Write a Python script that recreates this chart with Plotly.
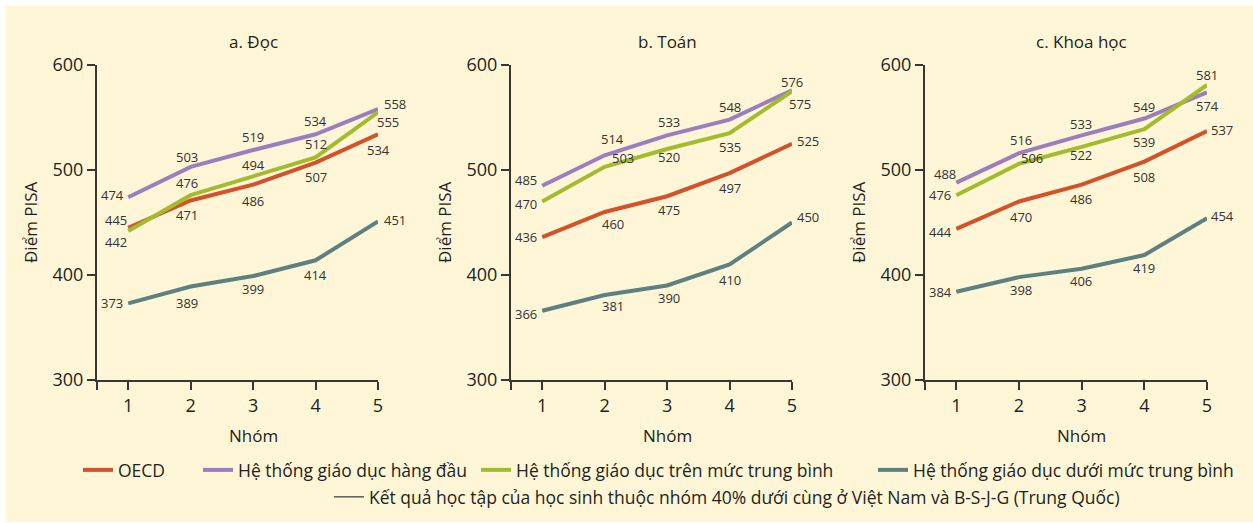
import plotly.graph_objects as go

# ---------------- data ----------------
groups = [1, 2, 3, 4, 5]
series_names = [
    "OECD",
    "Hệ thống giáo dục hàng đầu",
    "Hệ thống giáo dục trên mức trung bình",
    "Hệ thống giáo dục dưới mức trung bình",
]
ref_name = "Kết quả học tập của học sinh thuộc nhóm 40% dưới cùng ở Việt Nam và B-S-J-G (Trung Quốc)"
panel_titles = ["a. Đọc", "b. Toán", "c. Khoa học"]
x_title = "Nhóm"
y_title = "Điểm PISA"

# a. Reading
doc_oecd = [445, 471, 486, 507, 534]
doc_top = [474, 503, 519, 534, 558]
doc_above = [442, 476, 494, 512, 555]
doc_below = [373, 389, 399, 414, 451]
# b. Math
toan_oecd = [436, 460, 475, 497, 525]
toan_top = [485, 514, 533, 548, 576]
toan_above = [470, 503, 520, 535, 575]
toan_below = [366, 381, 390, 410, 450]
# c. Science
kh_oecd = [444, 470, 486, 508, 537]
kh_top = [488, 516, 533, 549, 574]
kh_above = [476, 506, 522, 539, 581]
kh_below = [384, 398, 406, 419, 454]

# bottom-40% Viet Nam / B-S-J-G reference level per panel
ref_values = [479, 506, 507]

# ---------------- styles ----------------
W, H = 1253, 523
colors = ["#D4522B", "#9C7DBE", "#A3BC2D", "#5D8081"]
cream = "#FEF6D6"
axis_col = "#3B3535"
txt_col = "#231F20"
label_col = "#333333"
FONT = "Open Sans"

# value-label pixel offsets (dx, dy up) per panel / series / point (style only)
offs_a = [
    [(-12, 8), (-4, -15), (0, -16), (0, -14), (0, -16)],
    [(-16, 2), (-4, 10), (0, 13), (0, 13), (17, 5)],
    [(-12, -11), (-4, 12), (0, 11), (0, 13), (10, -10)],
    [(-16, 0), (-4, -16), (0, -13), (0, -15), (17, 1)],
]
offs_b = [
    [(-16, 0), (8, -12), (2, -14), (0, -15), (16, 3)],
    [(-16, 6), (8, 16), (2, 13), (0, 13), (0, 8)],
    [(-16, -2), (18, 9), (2, -8), (0, -14), (8, -13)],
    [(-16, -3), (8, -11), (2, -12), (0, -15), (16, 6)],
]
offs_c = [
    [(-16, -3), (2, -15), (-1, -14), (0, -15), (15, 1)],
    [(-11, 9), (2, 13), (-1, 11), (0, 12), (0, -14)],
    [(-16, 0), (13, 6), (-1, -8), (0, -13), (0, 10)],
    [(-16, 0), (2, -13), (-1, -12), (0, -13), (15, 2)],
]

panels = [
    ([doc_oecd, doc_top, doc_above, doc_below], offs_a),
    ([toan_oecd, toan_top, toan_above, toan_below], offs_b),
    ([kh_oecd, kh_top, kh_above, kh_below], offs_c),
]
x_domains_px = [(97, 378), (511, 792), (925, 1207)]
y_domain_px = (380, 65)


def fx(p):
    return p / W


def fy(p):
    return 1 - p / H


fig = go.Figure()
legend_keys = ["legend", "legend2", "legend3", "legend4"]
annotations = []

for pi, (series, offsets) in enumerate(panels):
    xa = "x" if pi == 0 else f"x{pi + 1}"
    ya = "y" if pi == 0 else f"y{pi + 1}"
    for si, vals in enumerate(series):
        fig.add_trace(go.Scatter(
            x=groups, y=vals, mode="lines",
            line=dict(color=colors[si], width=4),
            name=series_names[si],
            showlegend=(pi == 0),
            legend=legend_keys[si],
            xaxis=xa, yaxis=ya, cliponaxis=False, hoverinfo="skip",
        ))
        for gi, (g, v) in enumerate(zip(groups, vals)):
            dx, dy = offsets[si][gi]
            annotations.append(dict(
                text=str(v), x=g, y=v, xref=xa, yref=ya,
                xshift=dx, yshift=dy, showarrow=False,
                xanchor="center", yanchor="middle",
                font=dict(family=FONT, size=13, color=label_col)))
    # reference level line across the panel
    fig.add_shape(type="line", xref=f"{xa} domain", yref=ya,
                  x0=0, x1=1, y0=ref_values[pi], y1=ref_values[pi],
                  line=dict(color="#111111", width=1))

# dummy trace for reference-line legend entry
fig.add_trace(go.Scatter(x=[None], y=[None], mode="lines",
                         line=dict(color="#111111", width=1),
                         name=ref_name, legend="legend5", showlegend=True))

axis_common = dict(
    showline=True, linecolor=axis_col, linewidth=2,
    ticks="outside", ticklen=8, tickwidth=2, tickcolor=axis_col,
    showgrid=False, zeroline=False, fixedrange=True, automargin=False,
    tickfont=dict(family=FONT, size=18, color=txt_col),
)

layout = dict(
    width=W, height=H,
    margin=dict(l=0, r=0, t=0, b=0, autoexpand=False),
    paper_bgcolor="white",
    plot_bgcolor="rgba(0,0,0,0)",
    font=dict(family=FONT, color=txt_col),
)

for pi in range(3):
    xkey = "xaxis" if pi == 0 else f"xaxis{pi + 1}"
    ykey = "yaxis" if pi == 0 else f"yaxis{pi + 1}"
    xa = "x" if pi == 0 else f"x{pi + 1}"
    ya = "y" if pi == 0 else f"y{pi + 1}"
    layout[xkey] = dict(
        axis_common,
        domain=[fx(x_domains_px[pi][0]), fx(x_domains_px[pi][1])],
        range=[0.5, 5],
        tickvals=[0.5] + groups, ticktext=[""] + [str(g) for g in groups],
        anchor=ya,
    )
    layout[ykey] = dict(
        axis_common,
        domain=[fy(y_domain_px[0]), fy(y_domain_px[1])],
        range=[300, 600],
        tickvals=[300, 400, 500, 600],
        anchor=xa,
    )
    annotations.append(dict(text=panel_titles[pi], xref=xa, yref="paper",
                            x=3, y=fy(42), yanchor="middle", showarrow=False,
                            font=dict(family=FONT, size=17, color=txt_col)))
    annotations.append(dict(text=x_title, xref=xa, yref="paper",
                            x=3, y=fy(435), yanchor="middle", showarrow=False,
                            font=dict(family=FONT, size=17, color=txt_col)))
    annotations.append(dict(text=y_title, xref=f"{xa} domain", yref="paper",
                            x=0, xshift=-67, y=fy(222), yanchor="middle",
                            xanchor="center", showarrow=False,
                            textangle=-90,
                            font=dict(family=FONT, size=17, color=txt_col)))

layout["annotations"] = annotations
layout["shapes"] = [dict(type="rect", xref="paper", yref="paper", layer="below",
                         x0=fx(6), x1=1, y0=fy(521.5), y1=fy(6),
                         fillcolor=cream, line=dict(width=0))]

legend_common = dict(orientation="h", bgcolor="rgba(0,0,0,0)",
                     font=dict(family=FONT, size=17.5, color=txt_col),
                     xanchor="left", yanchor="middle", borderwidth=0)
legend_x_px = [83, 203, 481, 878, 334]
legend_y_px = [470, 470, 470, 470, 497]
for li, key in enumerate(["legend", "legend2", "legend3", "legend4", "legend5"]):
    layout[key] = dict(legend_common, x=fx(legend_x_px[li] - 5),
                       y=fy(legend_y_px[li]))

fig.update_layout(**layout)
fig.write_html("out.html", config={"displayModeBar": False},
               post_script="document.body.style.margin='0px';document.body.style.overflow='hidden';")
